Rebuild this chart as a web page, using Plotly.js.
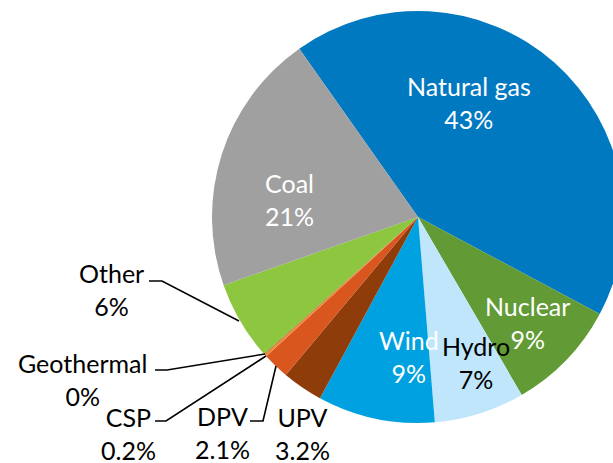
<!DOCTYPE html>
<html>
<head>
<meta charset="utf-8">
<script src="https://cdn.plot.ly/plotly-3.0.1.min.js"></script>
<style>
html,body{margin:0;padding:0;overflow:hidden;background:#fff;width:613px;height:463px;}
#chart{width:640px;height:463px;}
</style>
</head>
<body>
<div id="chart"></div>
<script>
// Data (clockwise order, starting at the Coal/Natural gas boundary)
const labels = ["Natural gas", "Nuclear", "Hydro", "Wind", "UPV", "DPV", "CSP", "Geothermal", "Other", "Coal"];
const values = [42.6, 8.8, 7.1, 9.2, 3.2, 2.1, 0.2, 0.04, 6.2, 20.6];
const pctText = ["43%", "9%", "7%", "9%", "3.2%", "2.1%", "0.2%", "0%", "6%", "21%"];
const colors = ["#0079C1", "#629A35", "#BFE6FB", "#00A1E0", "#8E3C0A", "#D9561F", "#F08A3C", "#5A2608", "#8DC63F", "#A0A0A0"];
const textColors = ["#FFFFFF", "#FFFFFF", "#000000", "#FFFFFF", "#000000", "#000000", "#000000", "#000000", "#000000", "#FFFFFF"];

const W = 640, H = 463;
const px = x => x / W;
const py = y => 1 - y / H;
const cx = 418, cy = 217, r = 206;

// label positions (pixels) per slice
const labelPos = {
  "Natural gas": [469, 103],
  "Nuclear": [527, 322],
  "Hydro": [476, 362],
  "Wind": [409, 356],
  "UPV": [302, 433],
  "DPV": [222, 432],
  "CSP": [128, 433],
  "Geothermal": [82, 379],
  "Other": [111, 289],
  "Coal": [289, 199]
};

const font = "Lato, 'Open Sans', sans-serif";
const annotations = labels.map((l, i) => ({
  text: l + "<br>" + pctText[i],
  x: px(labelPos[l][0]), y: py(labelPos[l][1]),
  xref: "paper", yref: "paper",
  xanchor: "center", yanchor: "middle",
  showarrow: false,
  font: {family: font, size: 25, color: textColors[i]}
}));

const lineStyle = {color: "#000000", width: 1.6};
const leaders = [
  [[149, 281], [162, 281], [239, 321]],
  [[155, 370], [167, 370], [265, 354]],
  [[155, 421], [166, 421], [266, 356]],
  [[250, 421], [263, 421], [276, 366]]
].map(pts => ({
  type: "path",
  xref: "paper", yref: "paper",
  path: pts.map((p, k) => (k === 0 ? "M" : "L") + px(p[0]) + "," + py(p[1])).join(" "),
  line: lineStyle
}));

const trace = {
  type: "pie",
  labels: labels,
  values: values,
  sort: false,
  direction: "clockwise",
  rotation: -35.2,
  marker: {colors: colors, line: {width: 0}},
  textinfo: "none",
  hoverinfo: "label+percent",
  domain: {x: [px(cx - r), px(cx + r)], y: [py(cy + r), py(cy - r)]},
  showlegend: false
};

const layout = {
  width: W, height: H,
  autosize: false,
  margin: {l: 0, r: 0, t: 0, b: 0},
  paper_bgcolor: "#ffffff",
  showlegend: false,
  annotations: annotations,
  shapes: leaders
};

Plotly.newPlot("chart", [trace], layout, {displayModeBar: false, staticPlot: true});
</script>
</body>
</html>
